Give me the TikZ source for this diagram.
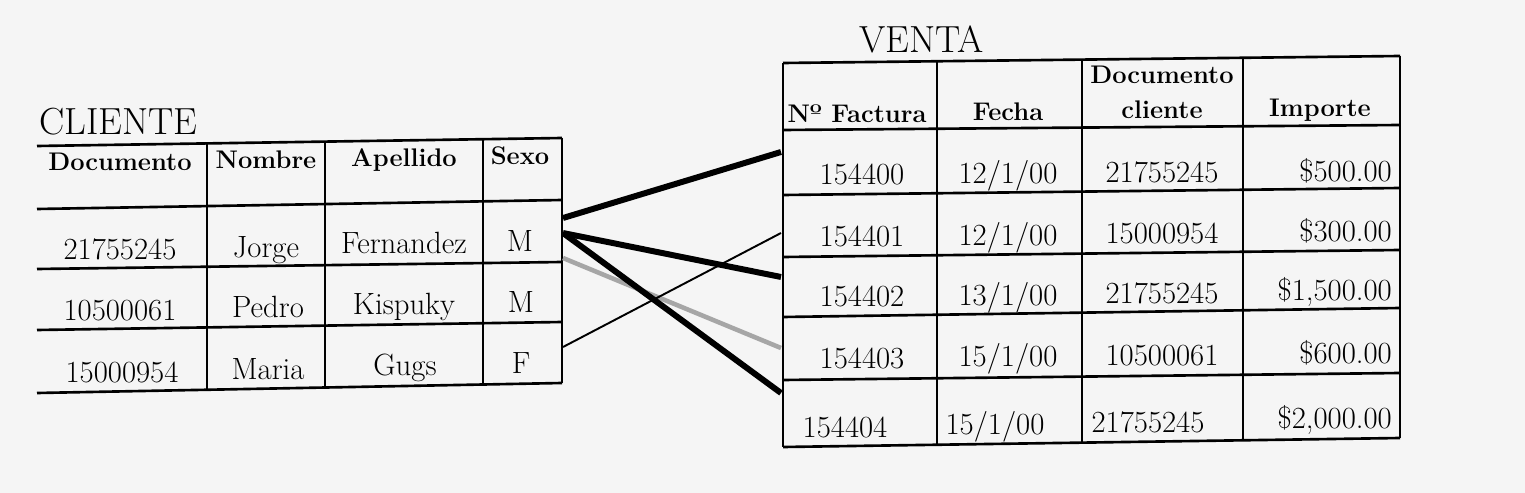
\documentclass[tikz,border=0pt]{standalone}
\usepackage{tikz}

\begin{document}
\begin{tikzpicture}[x=0.02cm, y=-0.02cm,
        title/.style={font=\fontsize{21.5}{25}\selectfont, anchor=base west},
        head/.style={font=\fontsize{14.5}{17}\selectfont\bfseries, anchor=base},
        cell/.style={font=\fontsize{17.5}{21}\selectfont, anchor=base},
        money/.style={cell, anchor=base east},
        grid/.style={line width=1.5pt},
        link/.style={line width=3.4pt},
        thinlink/.style={line width=1.1pt},
        greylink/.style={line width=2.6pt, black!35}]
        % Page
        \fill[black!4] (0,0) rectangle (1525,493);
        \useasboundingbox (0,0) rectangle (1525,493);

        % CLIENTE table
        \node[title] (cliente) at (33,135) {CLIENTE};
        \draw[grid] (37,146) -- (562,138);
        \draw[grid] (37,209) -- (562,200);
        \draw[grid] (37,269) -- (562,262);
        \draw[grid] (37,330) -- (562,322);
        \draw[grid] (37,393) -- (562,383);
        \draw[grid] (207,143) -- (207,390);
        \draw[grid] (325,142) -- (325,388);
        \draw[grid] (483,139) -- (483,385);
        \draw[grid] (562,138) -- (562,383);

        \node[head] (cliDoc) at (120,171) {Documento};
        \node[head] (cliNom) at (266,169) {Nombre};
        \node[head] (cliApe) at (404,167) {Apellido};
        \node[head] (cliSex) at (520,165) {Sexo};

        \node[cell] (doc1) at (120,260) {21755245};
        \node[cell] (nom1) at (266,257) {Jorge};
        \node[cell] (ape1) at (404,254) {Fernandez};
        \node[cell] (sex1) at (520,252) {M};

        \node[cell] (doc2) at (120,320) {10500061};
        \node[cell] (nom2) at (268,317) {Pedro};
        \node[cell] (ape2) at (404,315) {Kispuky};
        \node[cell] (sex2) at (521,313) {M};

        \node[cell] (doc3) at (122,382) {15000954};
        \node[cell] (nom3) at (268,379) {Maria};
        \node[cell] (ape3) at (405,376) {Gugs};
        \node[cell] (sex3) at (521,373) {F};

        % VENTA table
        \node[title] (venta) at (853,53) {VENTA};
        \draw[grid] (783,63) -- (1400,56);
        \draw[grid] (783,130) -- (1400,125);
        \draw[grid] (783,195) -- (1400,188);
        \draw[grid] (783,257) -- (1400,250);
        \draw[grid] (783,317) -- (1400,308);
        \draw[grid] (783,380) -- (1400,373);
        \draw[grid] (783,447) -- (1400,438);
        \draw[grid] (783,63) -- (783,447);
        \draw[grid] (937,61) -- (937,445);
        \draw[grid] (1082,59) -- (1082,443);
        \draw[grid] (1243,58) -- (1243,441);
        \draw[grid] (1400,56) -- (1400,438);

        \node[head] (venFac) at (857,123) {Nº Factura};
        \node[head] (venFec) at (1008,121) {Fecha};
        \node[head] (venDocA) at (1162,84) {Documento};
        \node[head] (venDocB) at (1162,119) {cliente};
        \node[head] (venImp) at (1320,117) {Importe};

        \node[cell] (fac0) at (862,185) {154400};
        \node[cell] (fec0) at (1008,184) {12/1/00};
        \node[cell] (cli0) at (1162,183) {21755245};
        \node[money] (imp0) at (1398,182) {\$500.00};

        \node[cell] (fac1) at (862,247) {154401};
        \node[cell] (fec1) at (1008,246) {12/1/00};
        \node[cell] (cli1) at (1162,244) {15000954};
        \node[money] (imp1) at (1398,242) {\$300.00};

        \node[cell] (fac2) at (862,307) {154402};
        \node[cell] (fec2) at (1008,305) {13/1/00};
        \node[cell] (cli2) at (1162,303) {21755245};
        \node[money] (imp2) at (1398,300) {\$1,500.00};

        \node[cell] (fac3) at (862,368) {154403};
        \node[cell] (fec3) at (1008,366) {15/1/00};
        \node[cell] (cli3) at (1162,365) {10500061};
        \node[money] (imp3) at (1398,363) {\$600.00};

        \node[cell] (fac4) at (845,437) {154404};
        \node[cell] (fec4) at (995,434) {15/1/00};
        \node[cell] (cli4) at (1148,432) {21755245};
        \node[money] (imp4) at (1398,428) {\$2,000.00};

        % Connection points
        \coordinate (jorgeA) at (563,218);
        \coordinate (jorgeB) at (563,233);
        \coordinate (pedro) at (563,258);
        \coordinate (maria) at (563,347);
        \coordinate (fila0) at (781,152);
        \coordinate (fila1) at (781,233);
        \coordinate (fila2) at (781,277);
        \coordinate (fila3) at (781,348);
        \coordinate (fila4) at (781,393);

        % Links
        \draw[greylink] (pedro) -- (fila3);
        \draw[thinlink] (maria) -- (fila1);
        \draw[link] (jorgeA) -- (fila0);
        \draw[link] (jorgeB) -- (fila2);
        \draw[link] (jorgeB) -- (fila4);
\end{tikzpicture}
\end{document}
